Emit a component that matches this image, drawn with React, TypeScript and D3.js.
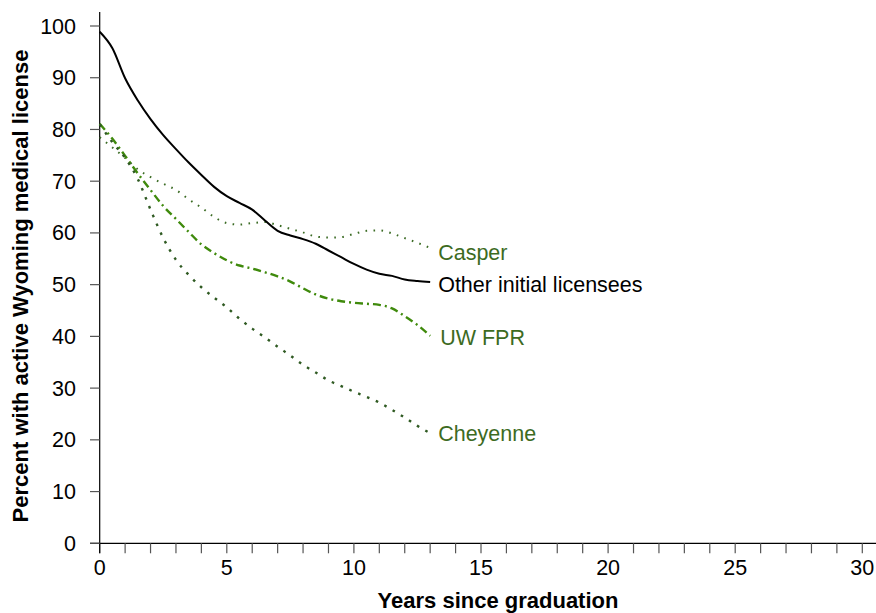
import React, { useEffect, useRef } from "react";
import * as d3 from "d3";

// years since graduation (half-year steps)
const years = [0, 0.5, 1, 1.5, 2, 2.5, 3, 3.5, 4, 4.5, 5, 5.5, 6, 6.5, 7, 7.5, 8, 8.5, 9, 9.5, 10, 10.5, 11, 11.5, 12, 12.5, 13];

const otherValues = [98.9, 95.7, 89.9, 85.6, 82.0, 78.9, 76.2, 73.6, 71.2, 68.9, 67.1, 65.8, 64.5, 62.4, 60.4, 59.5, 58.8, 57.9, 56.6, 55.3, 54.0, 52.9, 52.1, 51.7, 51.0, 50.7, 50.5];
const casperValues = [78.5, 76.5, 74.5, 72.3, 70.8, 69.5, 68.3, 66.5, 64.9, 63.1, 61.9, 61.6, 61.9, 62.1, 61.5, 60.8, 60.1, 59.3, 59.1, 59.2, 59.8, 60.4, 60.5, 59.9, 59.0, 58.1, 57.1];
const uwValues = [81.1, 78.2, 74.9, 71.5, 68.3, 65.2, 62.7, 60.2, 57.8, 56.1, 54.7, 53.7, 53.1, 52.4, 51.6, 50.6, 49.3, 48.1, 47.3, 46.8, 46.5, 46.3, 46.1, 45.4, 43.9, 42.2, 40.1];
const cheyenneValues = [81.0, 77.5, 74.5, 70.4, 64.5, 59.0, 54.8, 51.9, 49.5, 47.5, 45.6, 43.4, 41.5, 39.8, 38.0, 36.3, 34.5, 33.0, 31.5, 30.4, 29.3, 28.3, 27.2, 25.8, 24.3, 22.7, 21.3];

const seriesNames = ["Casper", "Other initial licensees", "UW FPR", "Cheyenne"];
const labelValues = [56.3, 50.1, 39.7, 21.2];
const xTickLabels = [0, 5, 10, 15, 20, 25, 30];
const yTickLabels = [0, 10, 20, 30, 40, 50, 60, 70, 80, 90, 100];

const App = () => {
  const ref = useRef<SVGSVGElement>(null);

  useEffect(() => {
    const svg = d3.select(ref.current);
    svg.selectAll("*").remove();

    const font = "Liberation Sans, Arial, sans-serif";
    const x = d3.scaleLinear().domain([0, 30]).range([99.7, 862.3]);
    const y = d3.scaleLinear().domain([0, 100]).range([543.3, 26]);

    const series = [
      { name: seriesNames[0], values: casperValues, color: "#3b6b24", dash: "1.6,6.4", width: 2, labelColor: "#3d6b1f" },
      { name: seriesNames[1], values: otherValues, color: "#000", dash: null, width: 2, labelColor: "#000" },
      { name: seriesNames[2], values: uwValues, color: "#3f8a0c", dash: "8,4,2,4", width: 2.4, labelColor: "#3d6b1f" },
      { name: seriesNames[3], values: cheyenneValues, color: "#2f5a22", dash: "2.6,7", width: 2.4, labelColor: "#3d6b1f" },
    ];

    const g = svg.append("g");

    // x axis
    g.append("line")
      .attr("x1", 90).attr("x2", 876)
      .attr("y1", y(0)).attr("y2", y(0))
      .attr("stroke", "#000").attr("stroke-width", 1.2);
    g.append("g")
      .selectAll("line")
      .data(d3.range(0, 31))
      .join("line")
      .attr("x1", d => x(d)).attr("x2", d => x(d))
      .attr("y1", y(0)).attr("y2", y(0) + 10)
      .attr("stroke", "#555").attr("stroke-width", 1.2);
    g.append("g")
      .selectAll("text")
      .data(xTickLabels)
      .join("text")
      .attr("x", d => x(d)).attr("y", 575)
      .attr("text-anchor", "middle")
      .style("font", `21.5px ${font}`)
      .text(d => d);

    // y axis
    g.append("line")
      .attr("x1", x(0)).attr("x2", x(0))
      .attr("y1", 12).attr("y2", y(0) + 10)
      .attr("stroke", "#000").attr("stroke-width", 1.2);
    g.append("g")
      .selectAll("line")
      .data(yTickLabels)
      .join("line")
      .attr("x1", 90).attr("x2", x(0))
      .attr("y1", d => y(d)).attr("y2", d => y(d))
      .attr("stroke", "#555").attr("stroke-width", 1.2);
    g.append("g")
      .selectAll("text")
      .data(yTickLabels)
      .join("text")
      .attr("x", 76).attr("y", d => y(d))
      .attr("dy", "0.35em")
      .attr("text-anchor", "end")
      .style("font", `21.5px ${font}`)
      .text(d => d);

    // axis titles
    g.append("text")
      .attr("x", 498).attr("y", 608)
      .attr("text-anchor", "middle")
      .style("font", `bold 22px ${font}`)
      .text("Years since graduation");
    g.append("text")
      .attr("transform", `translate(28,286) rotate(-90)`)
      .attr("text-anchor", "middle")
      .style("font", `bold 22px ${font}`)
      .text("Percent with active Wyoming medical license");

    // lines
    const line = d3.line<number>()
      .x((_, i) => x(years[i]))
      .y(d => y(d))
      .curve(d3.curveMonotoneX);

    g.append("g")
      .attr("fill", "none")
      .selectAll("path")
      .data(series)
      .join("path")
      .attr("d", d => line(d.values))
      .attr("stroke", d => d.color)
      .attr("stroke-width", d => d.width)
      .attr("stroke-dasharray", d => d.dash)
      .attr("stroke-linecap", "butt");

    // end labels
    g.append("g")
      .selectAll("text")
      .data(series)
      .join("text")
      .attr("x", (_, i) => x(years[years.length - 1]) + (i === 2 ? 10 : 8))
      .attr("y", (_, i) => y(labelValues[i]))
      .attr("dy", "0.35em")
      .attr("fill", d => d.labelColor)
      .style("font", `21.5px ${font}`)
      .text(d => d.name);
  }, []);

  return <svg ref={ref} width={876} height={613} style={{ position: "absolute", left: 0, top: 0 }}></svg>;
};

export default App;
